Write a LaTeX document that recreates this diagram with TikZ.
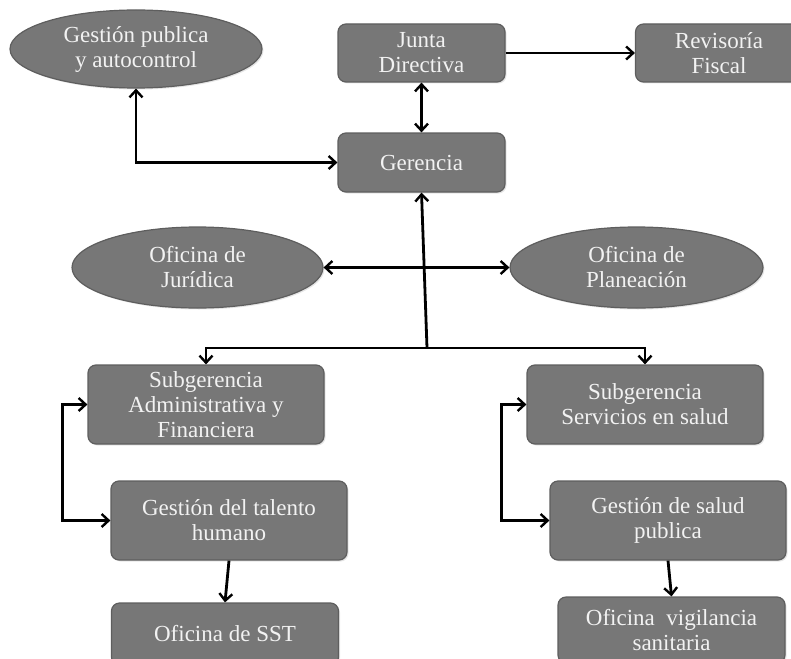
\documentclass[tikz,border=0pt]{standalone}
\usepackage{fontspec}
\setmainfont{Liberation Serif}
\usetikzlibrary{arrows.meta,shapes.geometric,shadows}

\definecolor{boxgray}{HTML}{777777}
\definecolor{edgegray}{HTML}{5E5E5E}

\tikzset{
  unit/.style={draw=edgegray, line width=1.2pt, fill=boxgray, text=white!95!black,
    rounded corners=8pt, inner sep=0pt, align=center,
    font=\fontsize{23}{25}\selectfont,
    drop shadow={opacity=0.2, shadow xshift=1.5pt, shadow yshift=-1.5pt}},
  office/.style={ellipse, draw=edgegray, line width=1.2pt, fill=boxgray, text=white!95!black,
    inner sep=0pt, align=center,
    font=\fontsize{23}{25}\selectfont,
    drop shadow={opacity=0.2, shadow xshift=1.5pt, shadow yshift=-1.5pt}},
  link/.style={line width=2.8pt, >={Straight Barb[length=7pt,width=13pt,line width=2.4pt]}}
}

\begin{document}
\begin{tikzpicture}[x=1pt,y=-1pt]

\useasboundingbox (0,0) rectangle (791,658);
\clip (0,0) rectangle (791,658);

% direccion
\node[office, minimum width=252pt, minimum height=78pt] (GP) at (136,49) {Gestión publica\\y autocontrol};
\node[unit, minimum width=167pt, minimum height=58pt] (JD) at (421.5,53) {Junta\\Directiva};
\node[unit, minimum width=167pt, minimum height=58pt] (RF) at (719,53) {Revisoría\\Fiscal};
\node[unit, minimum width=167pt, minimum height=59pt] (Ger) at (421.5,162.5) {Gerencia};

% oficinas asesoras
\node[office, minimum width=251pt, minimum height=81pt] (Jur) at (197.5,267.5) {Oficina de\\Jurídica};
\node[office, minimum width=253pt, minimum height=81pt] (Plan) at (636.5,267.5) {Oficina de\\Planeación};

% subgerencias
\node[unit, minimum width=236pt, minimum height=79pt] (SubA) at (206,404.5) {Subgerencia\\Administrativa y\\Financiera};
\node[unit, minimum width=236pt, minimum height=79pt] (SubS) at (645,404.5) {Subgerencia\\Servicios en salud};
\node[unit, minimum width=236pt, minimum height=79pt] (GT) at (229,520.5) {Gestión del talento\\humano};
\node[unit, minimum width=236pt, minimum height=79pt] (GS) at (668,520.5) {Gestión de salud\\publica};
\node[unit, minimum width=227pt, minimum height=62pt] (SST) at (225,634) {Oficina de SST};
\node[unit, minimum width=227pt, minimum height=66pt] (OVS) at (671.5,630) {Oficina\enspace vigilancia\\sanitaria};

\coordinate (hub) at (427,348);

% conectores
\draw[link,->] (JD.east) -- (RF.west);
\draw[link,<->] (JD.south) -- (Ger.north);
\draw[link,<->] (GP.south) |- (Ger.west);
\draw[link,->] (hub) -- (Ger.south);
\draw[link,<->] (Jur.east) -- (Plan.west);
\draw[link,<->] (SubA.north) |- (hub) -| (SubS.north);
\draw[link,<->] (SubA.west) -- ++(-25,0) |- (GT.west);
\draw[link,<->] (SubS.west) -- ++(-25,0) |- (GS.west);
\draw[link,->] (GT.south) -- (SST.north);
\draw[link,->] (GS.south) -- (OVS.north);

\end{tikzpicture}
\end{document}
